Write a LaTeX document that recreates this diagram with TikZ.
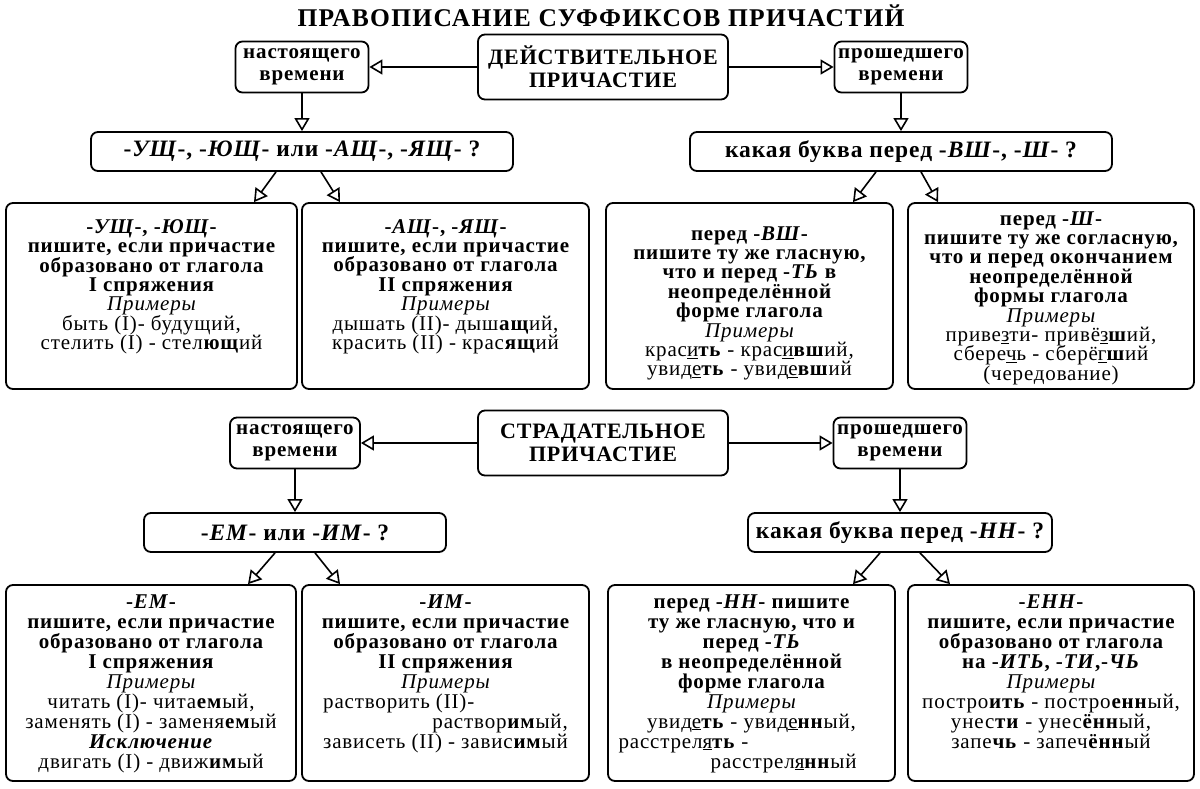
\documentclass[tikz,border=0pt]{standalone}
\usepackage{fontspec}
\setmainfont{Liberation Serif}[LetterSpace=4]
\newfontfamily\titlefont{Liberation Serif}[LetterSpace=5]
\usetikzlibrary{arrows.meta}
\newcommand{\sx}[1]{\textbf{\textit{#1}}}
\newcommand{\reg}[1]{{\mdseries #1}}
\newcommand{\prim}{{\mdseries\itshape Примеры}}
\newcommand{\und}[1]{\underline{#1}}
\newcommand{\bodyfnt}{\fontsize{21}{20}\selectfont\bfseries\lineskiplimit=-30pt\relax}
\newcommand{\bodyfntc}{\fontsize{21}{19.4}\selectfont\bfseries\lineskiplimit=-30pt\relax}
\newlength{\wB}
\begin{document}
\settowidth{\wB}{\bodyfnt\reg{зависеть (II) - завис\textbf{им}ый}}%
\begin{tikzpicture}[x=1pt,y=-1pt,
  box/.style={draw, line width=1.8pt, rounded corners=7pt, inner sep=0pt},
  bodytxt/.style={align=center, inner sep=0pt, anchor=north, font=\bodyfnt},
  bodytxtc/.style={align=center, inner sep=0pt, anchor=north, font=\bodyfntc},
  smalltxt/.style={align=center, font=\fontsize{21}{22}\selectfont\bfseries},
  qtxt/.style={align=center, font=\fontsize{23.5}{23.5}\selectfont\bfseries},
  maintxt/.style={align=center, font=\fontsize{22}{23}\selectfont\bfseries},
  arr/.style={line width=1.6pt, -{Triangle[open, length=13pt, width=15pt, line width=1.6pt]}}
]
\useasboundingbox (0,0) rectangle (1200,788);

\node[font={\titlefont\fontsize{25.5}{25.5}\selectfont\bfseries}] (title) at (601,16) {ПРАВОПИСАНИЕ СУФФИКСОВ ПРИЧАСТИЙ};

% ---------- top half ----------
\node[box, maintxt, minimum width=250pt, minimum height=65pt] (dp) at (603,67) {ДЕЙСТВИТЕЛЬНОЕ\\ПРИЧАСТИЕ};
\node[box, smalltxt, minimum width=133pt, minimum height=51pt] (sl1) at (302,67) {настоящего\\времени};
\node[box, smalltxt, minimum width=133pt, minimum height=51pt] (sr1) at (901,67) {прошедшего\\времени};
\node[box, qtxt, minimum width=422pt, minimum height=39pt] (q1l) at (302,151.5) {-\sx{УЩ}-, -\sx{ЮЩ}- или -\sx{АЩ}-, -\sx{ЯЩ}- ?};
\node[box, qtxt, minimum width=422pt, minimum height=39pt] (q1r) at (901,151.5) {какая буква перед -\sx{ВШ}-, -\sx{Ш}- ?};

\node[box, minimum width=291pt, minimum height=186pt] (r1a) at (151.5,296) {};
\node[box, minimum width=287pt, minimum height=186pt] (r1b) at (445.5,296) {};
\node[box, minimum width=287pt, minimum height=186pt] (r1c) at (749.5,296) {};
\node[box, minimum width=286pt, minimum height=186pt] (r1d) at (1051,296) {};

\node[bodytxtc] (t1a) at ([yshift=-17pt]r1a.north) {-\sx{УЩ}-, -\sx{ЮЩ}-\\пишите, если причастие\\образовано от глагола\\I спряжения\\\prim\\\reg{быть (I)- будущий,}\\\reg{стелить (I) - стел\textbf{ющ}ий}};
\node[bodytxtc] (t1b) at ([yshift=-17pt]r1b.north) {-\sx{АЩ}-, -\sx{ЯЩ}-\\пишите, если причастие\\образовано от глагола\\II спряжения\\\prim\\\reg{дышать (II)- дыш\textbf{ащ}ий,}\\\reg{красить (II) - крас\textbf{ящ}ий}};
\node[bodytxtc] (t1c) at ([yshift=-24pt]r1c.north) {перед -\sx{ВШ}-\\пишите ту же гласную,\\что и перед -\sx{ТЬ} в\\неопределённой\\форме глагола\\\prim\\\reg{крас\und{и}\textbf{ть} - крас\und{и}\textbf{вш}ий,}\\\reg{увид\und{е}\textbf{ть} - увид\und{е}\textbf{вш}ий}};
\node[bodytxtc] (t1d) at ([yshift=-9pt]r1d.north) {перед -\sx{Ш}-\\пишите ту же согласную,\\что и перед окончанием\\неопределённой\\формы глагола\\\prim\\\reg{приве\und{з}ти- привё\und{з}\textbf{ш}ий,}\\\reg{сбере\und{ч}ь - сберё\und{г}\textbf{ш}ий}\\\reg{(чередование)}};

\draw[arr] (dp.west) -- (sl1.east);
\draw[arr] (dp.east) -- (sr1.west);
\draw[arr] (sl1.south) -- (q1l.north);
\draw[arr] (sr1.south) -- (q1r.north);
\draw[arr] ([xshift=-26pt]q1l.south) -- ([xshift=102.5pt]r1a.north);
\draw[arr] ([xshift=19pt]q1l.south) -- ([xshift=-105.5pt]r1b.north);
\draw[arr] ([xshift=-25pt]q1r.south) -- ([xshift=103.5pt]r1c.north);
\draw[arr] ([xshift=20pt]q1r.south) -- ([xshift=-113pt]r1d.north);

% ---------- bottom half ----------
\node[box, maintxt, minimum width=250pt, minimum height=65pt] (sp) at (603,443) {СТРАДАТЕЛЬНОЕ\\ПРИЧАСТИЕ};
\node[box, smalltxt, minimum width=130pt, minimum height=51pt] (sl2) at (295,443) {настоящего\\времени};
\node[box, smalltxt, minimum width=133pt, minimum height=51pt] (sr2) at (900,443) {прошедшего\\времени};
\node[box, qtxt, minimum width=302pt, minimum height=39pt] (q2l) at (295,532.5) {-\sx{ЕМ}- или -\sx{ИМ}- ?};
\node[box, qtxt, minimum width=304pt, minimum height=39pt] (q2r) at (900,532.5) {какая буква перед -\sx{НН}- ?};

\node[box, minimum width=290pt, minimum height=196pt] (r2a) at (151,683) {};
\node[box, minimum width=287pt, minimum height=196pt] (r2b) at (445.5,683) {};
\node[box, minimum width=287pt, minimum height=196pt] (r2c) at (751.5,683) {};
\node[box, minimum width=286pt, minimum height=196pt] (r2d) at (1051,683) {};

\node[bodytxt] (t2a) at ([yshift=-10pt]r2a.north) {-\sx{ЕМ}-\\пишите, если причастие\\образовано от глагола\\I спряжения\\\prim\\\reg{читать (I)- чита\textbf{ем}ый,}\\\reg{заменять (I) - заменя\textbf{ем}ый}\\\sx{Исключение}\\\reg{двигать (I) - движ\textbf{им}ый}};
\node[bodytxt] (t2b) at ([yshift=-10pt]r2b.north) {-\sx{ИМ}-\\пишите, если причастие\\образовано от глагола\\II спряжения\\\prim\\\makebox[\wB][l]{\reg{растворить (II)-}}\\\makebox[\wB][r]{\reg{раствор\textbf{им}ый,}}\\\reg{зависеть (II) - завис\textbf{им}ый}};
\node[bodytxt] (t2c) at ([yshift=-10pt]r2c.north) {перед -\sx{НН}- пишите\\ту же гласную, что и\\перед -\sx{ТЬ}\\в неопределённой\\форме глагола\\\prim\\\reg{увид\und{е}\textbf{ть} - увид\und{е}\textbf{нн}ый,}\\\makebox[266pt][l]{\reg{расстрел\und{я}\textbf{ть} -}}\\\makebox[266pt][r]{\reg{расстрел\und{я}\textbf{нн}ый}\hspace{28pt}}};
\node[bodytxt] (t2d) at ([yshift=-10pt]r2d.north) {-\sx{ЕНН}-\\пишите, если причастие\\образовано от глагола\\на -\sx{ИТЬ}, -\sx{ТИ},-\sx{ЧЬ}\\\prim\\\reg{постро\textbf{ить} - постро\textbf{енн}ый,}\\\reg{унес\textbf{ти} - унес\textbf{ённ}ый,}\\\reg{запе\textbf{чь} - запеч\textbf{ённ}ый}};

\draw[arr] (sp.west) -- (sl2.east);
\draw[arr] (sp.east) -- (sr2.west);
\draw[arr] (sl2.south) -- (q2l.north);
\draw[arr] (sr2.south) -- (q2r.north);
\draw[arr] ([xshift=-20pt]q2l.south) -- ([xshift=97pt]r2a.north);
\draw[arr] ([xshift=20pt]q2l.south) -- ([xshift=-105.5pt]r2b.north);
\draw[arr] ([xshift=-20pt]q2r.south) -- ([xshift=101.5pt]r2c.north);
\draw[arr] ([xshift=20pt]q2r.south) -- ([xshift=-101pt]r2d.north);
\end{tikzpicture}
\end{document}
